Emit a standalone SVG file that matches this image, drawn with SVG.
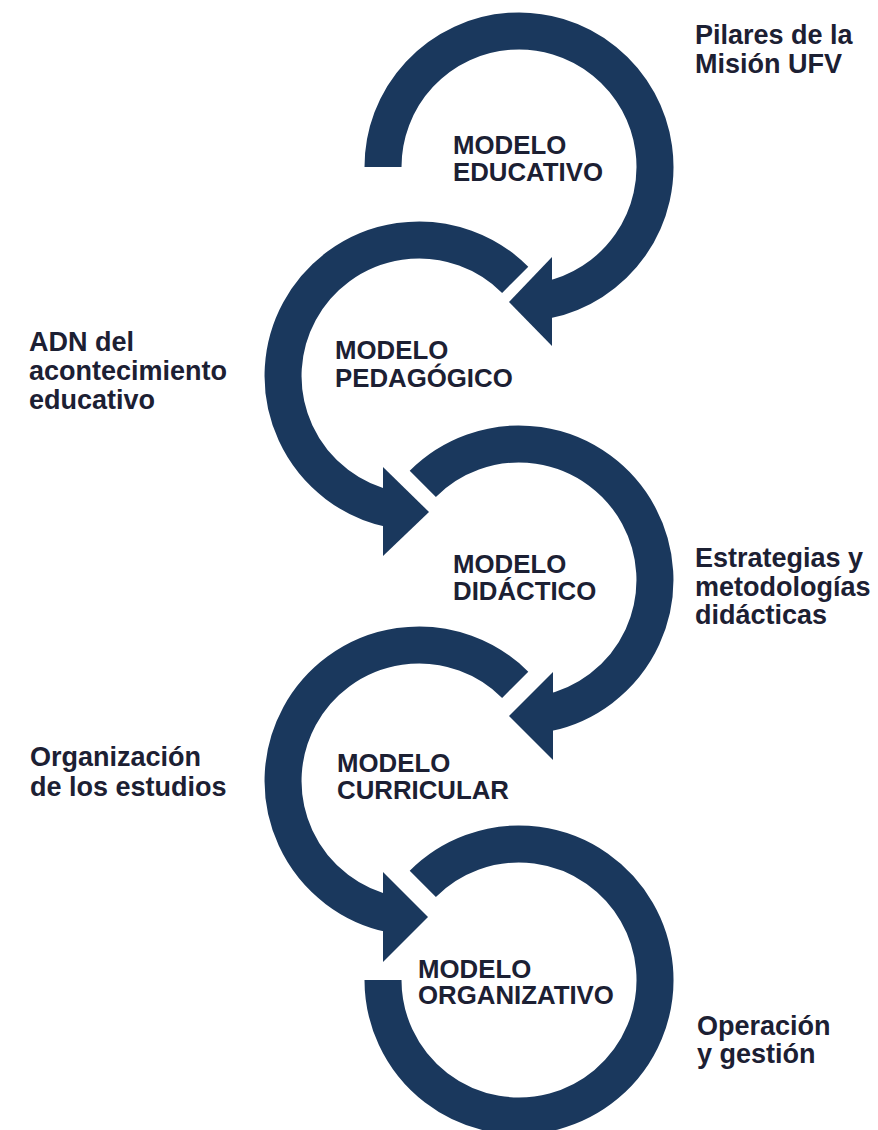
<svg xmlns="http://www.w3.org/2000/svg" width="878" height="1130" viewBox="0 0 878 1130">
<style>
.arc{fill:none;stroke:#1a385d;stroke-width:37;stroke-linecap:butt}
.head{fill:#1a385d}
.t{font-family:"Liberation Sans",Arial,sans-serif;font-weight:bold;fill:#1c2033}
.m{font-size:25.8px}
.s{font-size:27px}
</style>
<rect width="878" height="1130" fill="#ffffff"/>
<g id="connectors">
<path class="arc" d="M383 167 A136 136 0 1 1 547.3 300"/>
<polygon class="head" points="552,257 509,302 552,346"/>
<path class="arc" d="M515.2 279.8 A136 136 0 1 0 390.7 509"/>
<polygon class="head" points="383,467 429,512 383,556"/>
<path class="arc" d="M422.8 483.8 A136 136 0 1 1 547.3 713"/>
<polygon class="head" points="553,672 509,716 553,760"/>
<path class="arc" d="M515.2 684.8 A136 136 0 1 0 390.7 914"/>
<polygon class="head" points="383,872 428,917 383,962"/>
<path class="arc" d="M422.8 883.8 A136 136 0 1 1 383 980"/>
</g>
<g id="node-educativo"><text class="t m" x="453" y="154">MODELO</text><text class="t m" x="453" y="181">EDUCATIVO</text></g>
<g id="node-pedagogico"><text class="t m" x="335" y="359">MODELO</text><text class="t m" x="335" y="387">PEDAGÓGICO</text></g>
<g id="node-didactico"><text class="t m" x="453" y="573">MODELO</text><text class="t m" x="453" y="600">DIDÁCTICO</text></g>
<g id="node-curricular"><text class="t m" x="337" y="772">MODELO</text><text class="t m" x="337" y="799">CURRICULAR</text></g>
<g id="node-organizativo"><text class="t m" x="418" y="978">MODELO</text><text class="t m" x="418" y="1004">ORGANIZATIVO</text></g>
<g id="label-pilares"><text class="t s" x="695" y="44">Pilares de la</text><text class="t s" x="695" y="73">Misión UFV</text></g>
<g id="label-adn"><text class="t s" x="29" y="351">ADN del</text><text class="t s" x="29" y="380">acontecimiento</text><text class="t s" x="29" y="409">educativo</text></g>
<g id="label-estrategias"><text class="t s" x="695" y="567">Estrategias y</text><text class="t s" x="695" y="596">metodologías</text><text class="t s" x="695" y="624">didácticas</text></g>
<g id="label-organizacion"><text class="t s" x="30" y="766">Organización</text><text class="t s" x="30" y="796">de los estudios</text></g>
<g id="label-operacion"><text class="t s" x="697" y="1035">Operación</text><text class="t s" x="697" y="1063">y gestión</text></g>
</svg>
